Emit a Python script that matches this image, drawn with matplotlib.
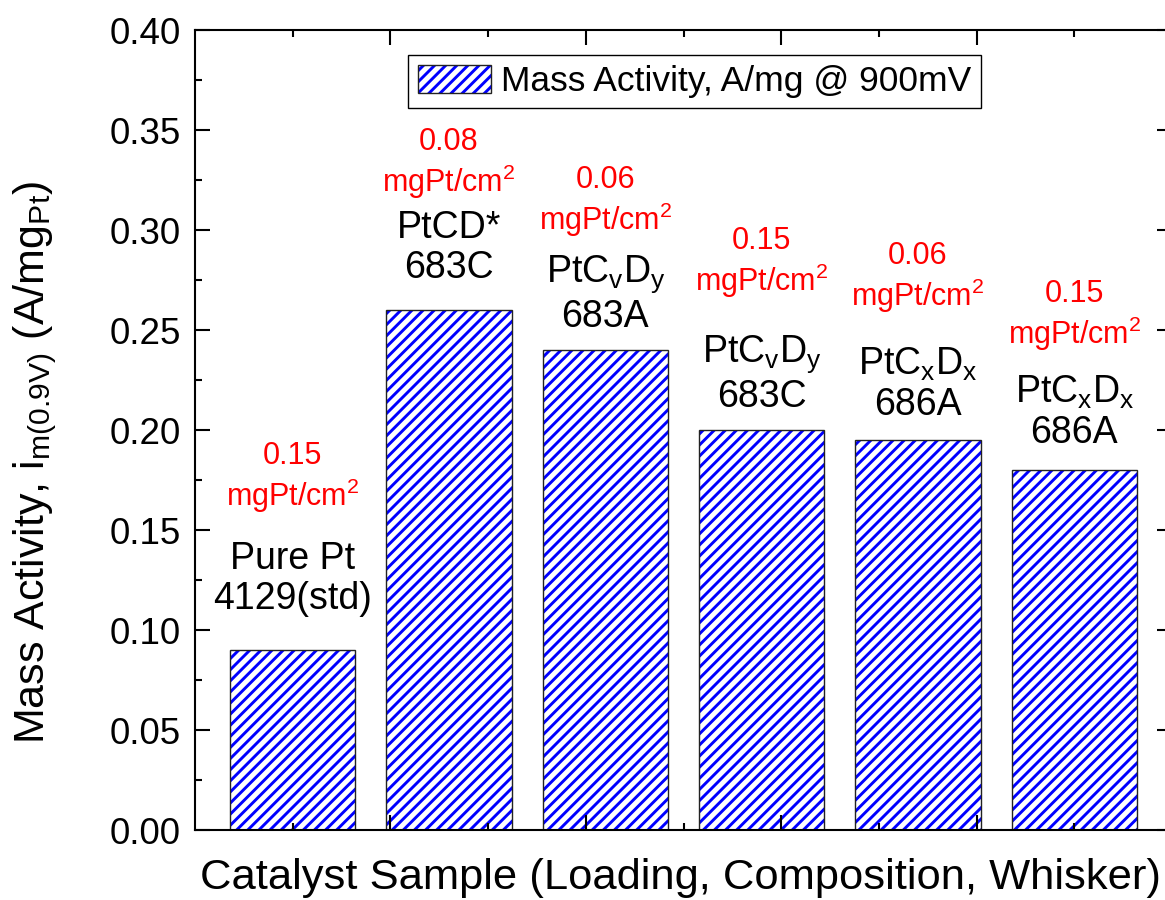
import numpy as np
import matplotlib.pyplot as plt
from matplotlib.ticker import MultipleLocator
from matplotlib.legend_handler import HandlerTuple

plt.rcParams['font.family'] = ['Liberation Sans', 'DejaVu Sans']
plt.rcParams['mathtext.default'] = 'regular'
plt.rcParams['hatch.linewidth'] = 2.1

# data
samples = ['Pure Pt\n4129(std)',
           'PtCD*\n683C',
           'PtC$_v$D$_y$\n683A',
           'PtC$_v$D$_y$\n683C',
           'PtC$_x$D$_x$\n686A',
           'PtC$_x$D$_x$\n686A']
loadings = ['0.15', '0.08', '0.06', '0.15', '0.06', '0.15']
activity = [0.09, 0.26, 0.24, 0.20, 0.195, 0.18]

# label placement above each bar (in A/mg)
name_off = [0.0355, 0.031, 0.028, 0.028, 0.028, 0.029]
load_off = [0.086, 0.073, 0.074, 0.0835, 0.081, 0.077]

xpos = 1 + 1.6 * np.arange(len(activity))

fig = plt.figure(figsize=(11.65, 9), dpi=100)
ax = fig.add_axes([195/1165, 1-830/900, 977/1165, 800/900])

b1 = ax.bar(xpos, activity, width=1.28, color='white', edgecolor='blue',
            hatch='///', linewidth=0)
b2 = ax.bar(xpos, activity, width=1.28, fill=False, edgecolor='#222222',
            linewidth=1)

for x, v, s, l, no, lo in zip(xpos, activity, samples, loadings, name_off, load_off):
    ax.text(x, v + no, s, ha='center', va='center', fontsize=27, linespacing=1.15)
    ax.text(x, v + lo, l + '\nmgPt/cm$^2$', ha='center', va='center',
            fontsize=22, color='red', linespacing=1.2)

ax.set_xlim(0, 10)
ax.set_ylim(0, 0.40)
ax.set_xticks([2, 4, 6, 8])
ax.set_xticks([1, 3, 5, 7, 9], minor=True)
ax.set_yticks(np.arange(0, 0.401, 0.05))
ax.yaxis.set_minor_locator(MultipleLocator(0.025))
ax.yaxis.set_major_formatter(lambda v, p: f'{v:.2f}')
ax.tick_params(which='both', direction='in', top=True, right=True,
               labelbottom=False, width=1.5)
ax.tick_params(which='major', length=10.5, labelsize=26.5, pad=10)
ax.tick_params(which='minor', length=5)
for sp in ax.spines.values():
    sp.set_linewidth(1.5)

fig.text(35/1165, 1-462/900, 'Mass Activity, i$_{m(0.9V)}$ (A/mg$_{Pt}$)',
         fontsize=31, rotation=90, ha='center', va='center')
ax.set_xlabel('Catalyst Sample (Loading, Composition, Whisker)', fontsize=31.3, labelpad=21)
ax.xaxis.set_label_coords((680 - 195) / 977, -0.035)
ax.xaxis.label.set_va('top')

ax.legend([(b1, b2)], ['Mass Activity, A/mg @ 900mV'],
          handler_map={tuple: HandlerTuple(ndivide=1, pad=0)},
          loc='upper left', bbox_to_anchor=(0.218, 0.969), borderaxespad=0,
          fontsize=25.5, frameon=True, fancybox=False, edgecolor='black',
          framealpha=1, borderpad=0.28, handlelength=2.05, handleheight=0.86,
          handletextpad=0.3)
ax.get_legend().get_frame().set_linewidth(1)

fig.savefig('out.png', dpi=100)
